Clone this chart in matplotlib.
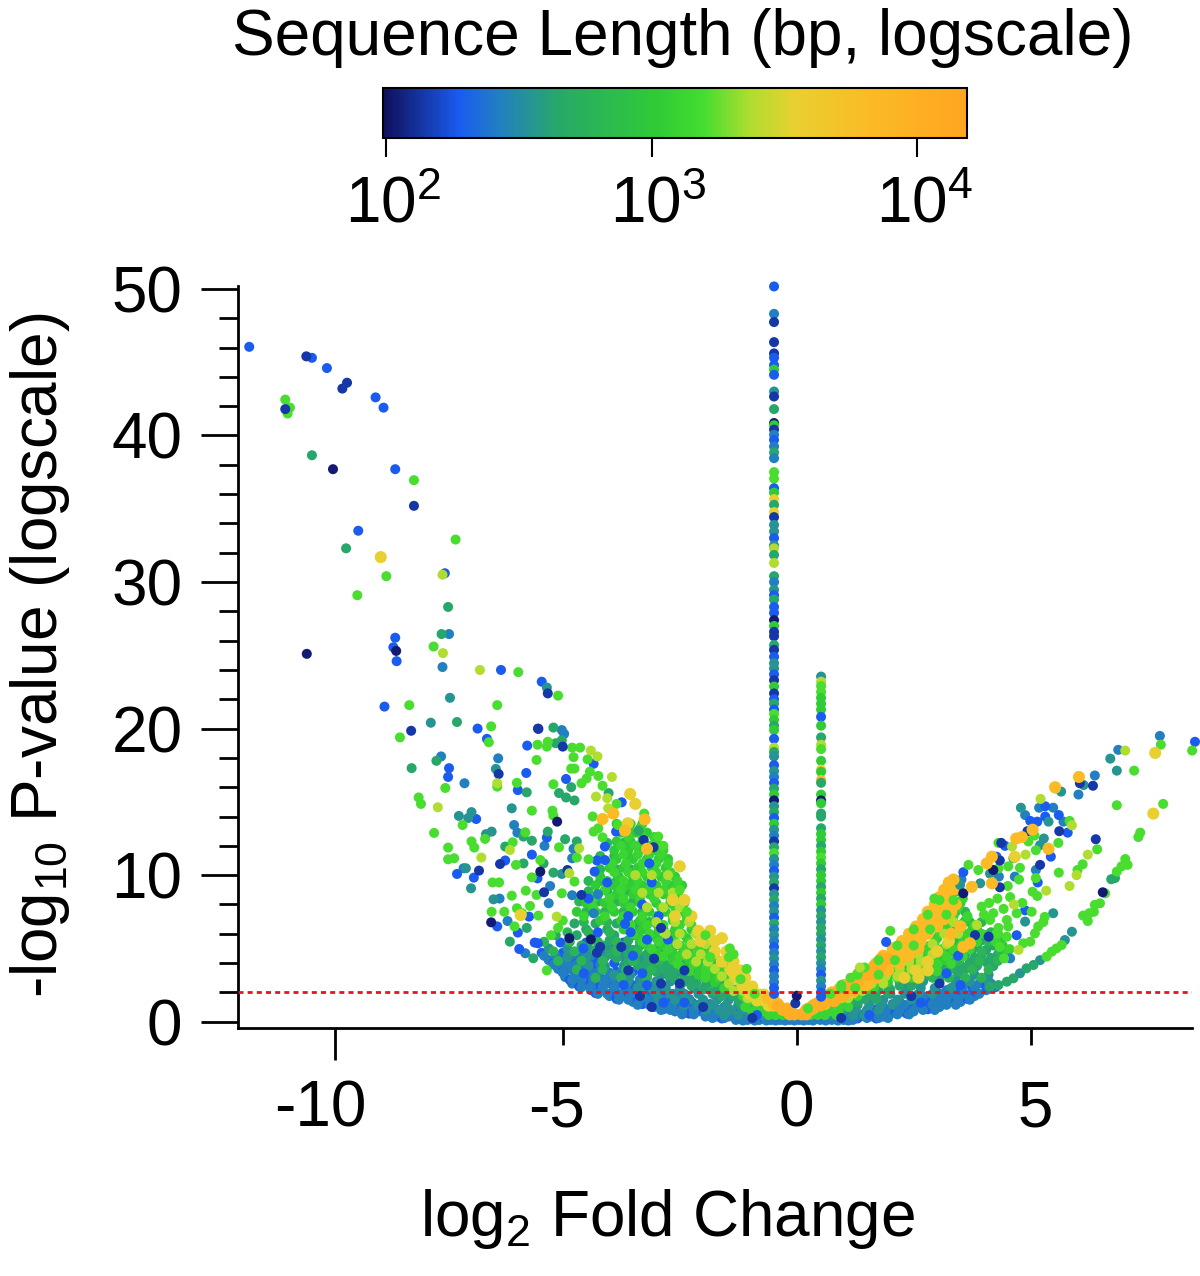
import matplotlib
matplotlib.use("Agg")
import matplotlib.pyplot as plt
from matplotlib.colors import LinearSegmentedColormap, LogNorm
from matplotlib.transforms import ScaledTranslation

plt.rcParams["font.family"] = ["Liberation Sans", "DejaVu Sans"]
plt.rcParams["mathtext.fontset"] = "custom"
plt.rcParams["mathtext.rm"] = "Liberation Sans"
plt.rcParams["mathtext.default"] = "regular"

# sequence lengths (bp)
NAVY, DARK, BLUE, SKY, TEAL, SEA, FILL = 108, 139, 190, 268, 346, 445, 620
GREEN, MIDGREEN, BRIGHT, LIME, YELLOW, GOLD, ORANGE = 1080, 1300, 1590, 2370, 3460, 6520, 11000

x_ticks = [-9.86, -5, 0, 5]
x_labels = ["-10", "-5", "0", "5"]
y_major = [0, 10, 20, 30, 40, 50]
y_minor = [2, 4, 6, 8, 12, 14, 16, 18, 22, 24, 26, 28, 32, 34, 36, 38, 42, 44, 46, 48]
cbar_ticks = [100, 1000, 10000]
cbar_labels = ["$10^2$", "$10^3$", "$10^4$"]
threshold = 2

# two spikes of genes with a fold change near +-0.5
strip_left_y = [50.17, 48.3, 47.74, 46.37, 45.6, 45.3, 44.8, 44.5, 44.14, 43, 42.66, 41.8, 40.85, 40.7, 40.4, 40.05,
                39.7, 39.25, 38.84, 38.45, 37.5, 37.05, 36.4, 36.1, 35.66, 35.27, 34.77, 34.43, 33.9, 33.45, 33,
                32.5, 32.3, 31.85, 31.3, 30.4, 30, 29.47, 29.1, 28.8, 28.3, 27.9, 27.4, 27, 26.6, 26.3, 25.7, 25.37,
                24.9, 24.46, 24.1, 23.7, 23.3, 22.87, 22.4, 22.0, 21.7, 21.3, 21, 20.6, 20.2, 19.9, 19.3, 18.7,
                18.4, 18.1, 17.5, 17.1, 16.7, 16.3, 15.9, 15.5, 15.1, 14.7, 14.3, 13.9, 13.5, 13.1, 12.7, 12.3,
                11.9, 11.5, 11.1, 10.7, 10.3, 9.9, 9.5, 9.1, 8.7, 8.3, 7.9, 7.5, 7.1, 6.7, 6.3, 5.9, 5.5, 5.1, 4.7,
                4.3, 3.9, 3.5, 3.1, 2.7, 2.3, 1.9]
strip_left_len = [BLUE, SKY, DARK, DARK, DARK, BLUE, BLUE, GREEN, BLUE, TEAL, DARK, SEA, NAVY, GREEN, DARK, SKY,
                  BLUE, SKY, SEA, SKY, BRIGHT, BRIGHT, BLUE, GREEN, YELLOW, SEA, YELLOW, DARK, TEAL, TEAL, BLUE,
                  TEAL, LIME, SEA, LIME, SEA, SKY, TEAL, BLUE, SEA, BLUE, BLUE, NAVY, GREEN, DARK, DARK, SEA, DARK,
                  BLUE, TEAL, TEAL, BLUE, DARK, GREEN, DARK, BLUE, SEA, BLUE, BRIGHT, GREEN, SEA, GREEN, BLUE, LIME,
                  SEA, TEAL, BLUE, TEAL, SKY, BLUE, SEA, GREEN, NAVY, TEAL, SEA, BLUE, GREEN, TEAL, SKY, DARK,
                  SEA, BRIGHT, TEAL, SKY, BLUE, TEAL, SEA, DARK, TEAL, SEA, SKY, TEAL, BLUE, SEA, SKY, TEAL, SKY, BLUE,
                  SKY, TEAL, SKY, BLUE, SKY, SKY, BLUE, BLUE]
strip_right_y = [23.55, 23.2, 22.9, 22.5, 22.1, 21.7, 21.3, 20.8, 20.2, 19.4, 18.9, 18.6, 17.8, 17.2, 17.05, 16.5,
                 16.3, 15.5, 15.1, 14.9, 14.2, 14, 13.2, 12.8, 12.4, 12.0, 11.6, 11.2, 10.8, 10.4, 10, 9.6, 9.2,
                 8.8, 8.4, 8, 7.6, 7.2, 6.8, 6.4, 6, 5.6, 5.2, 4.8, 4.4, 4, 3.6, 3.2, 2.8, 2.4, 2, 1.7]
strip_right_len = [TEAL, LIME, BRIGHT, BRIGHT, GREEN, GREEN, GREEN, BLUE, GREEN, SEA, LIME, BRIGHT, GREEN, YELLOW,
                   GREEN, GOLD, SEA, GREEN, NAVY, GREEN, SEA, SEA, SEA, GREEN, GREEN, SEA, GREEN, BRIGHT, GREEN, SEA,
                   GREEN, GREEN, SEA, GREEN, SEA, GREEN, TEAL, SEA, TEAL, SEA, SEA, TEAL, SEA, TEAL, SEA, TEAL,
                   SKY, BLUE, TEAL, SKY, BLUE, BLUE]

# dense part of the volcano: (y, [x, ...]) rows, drawn in the order of dense_layers below
sky_rows = [(0.12, [-1.3, -1.05, -.8, -.55, -.35, -.15, .05, .25, .5, .75, 1.0, 1.2]),
            (0.35, [-1.95, -1.7, -1.45, -1.2, -.95, 1.1, 1.35, 1.6, 1.85]),
            (0.7, [-2.6, -2.35, -2.1, -1.85, -1.6, -1.35, 1.5, 1.75, 2.0, 2.25, 2.5]),
            (1.0, [-3.05, -2.8, -2.55, -2.3, -2.05, -1.8, -1.55, 1.85, 2.1, 2.35, 2.6, 2.85, 3.05]),
            (1.35, [-3.5, -3.25, -3.0, -2.75, -2.5, -2.25, -2.0, 2.2, 2.5, 2.8, 3.1, 3.35, 3.5]),
            (1.75, [-4.0, -3.75, -3.5, -3.25, -3.0, -2.75, -2.5, 2.7, 3.0, 3.3, 3.6, 3.8]),
            (2.15, [-4.4, -4.15, -3.9, -3.65, -3.4, -3.15, -2.9, 3.2, 3.5, 3.8, 4.05]),
            (2.6, [-4.8, -4.55, -4.3, -4.05, -3.8, -3.55, -3.3, 3.6, 3.9, 4.15]),
            (3.05, [-4.95, -4.7, -4.45, -4.2, -3.95, -3.7]),
            (3.6, [-5.1, -4.85, -4.6, -4.35, -4.1]),
            (4.2, [-5.3, -5.05, -4.8, -4.55, -4.3])]
sky2_rows = [(0.08, [-1.15, -.9, -.65, -.45, -.25, -.05, .15, .35, .62, .88, 1.1]),
             (0.25, [-1.8, -1.55, -1.3, 1.25, 1.5, 1.75, 1.95]),
             (0.5, [-2.45, -2.2, -1.95, -1.75, -1.45, 1.4, 1.6, 1.9, 2.15, 2.4]),
             (0.8, [-2.9, -2.7, -2.45, -2.2, -1.95, 1.9, 2.2, 2.5, 2.7, 2.95]),
             (1.15, [-3.4, -3.15, -2.9, -2.65, -2.4, -2.15, -1.9, 2.3, 2.6, 2.9, 3.2, 3.4]),
             (1.5, [-3.8, -3.6, -3.35, -3.15, -2.85, -2.6, -2.35, 2.65, 2.95, 3.2, 3.45, 3.7]),
             (1.9, [-4.25, -4.05, -3.8, -3.55, -3.3, -3.05, -2.65, 3.1, 3.35, 3.6, 3.9]),
             (2.35, [-4.6, -4.4, -4.15, -3.9, -3.65, -3.4, -3.1, 3.55, 3.8, 4.1, 4.25]),
             (2.85, [-4.8, -4.6, -4.35, -4.1, -3.85, -3.6, -3.35]),
             (3.35, [-5.0, -4.75, -4.5, -4.25, -4.0, -3.75]),
             (3.9, [-5.2, -4.95, -4.7, -4.45, -4.2]),
             (4.5, [-5.4, -5.15, -4.9, -4.65, -4.4])]
blue_rows = [(0.22, [-1.6, -1.2, -.7, -.1, .02, .12, .6, 1.3, 1.7]),
             (0.55, [-2.3, -1.95, -1.6, -1.3, 1.3, 1.65, 2.0, 2.35]),
             (0.85, [-2.85, -2.45, -2.1, -1.7, 1.7, 2.1, 2.45, 2.8]),
             (1.2, [-3.3, -2.95, -2.6, -2.2, -1.85, 2.05, 2.45, 2.75, 3.2]),
             (1.55, [-3.85, -3.45, -3.1, -2.7, -2.3, 2.5, 2.9, 3.3, 3.65]),
             (1.95, [-4.3, -3.95, -3.6, -3.2, -2.8, 3.0, 3.4, 3.75]),
             (2.4, [-4.65, -4.3, -3.9, -3.5, -3.1, 3.4, 3.75, 4.05]),
             (2.85, [-4.85, -4.5, -4.1, -3.7, -3.35]),
             (3.4, [-5.0, -4.65, -4.25, -3.85, -3.5]),
             (4.0, [-5.2, -4.7, -4.3, -3.9]),
             (4.7, [-5.45, -5.0, -4.6, -4.2, -3.8]),
             (5.4, [-5.6, -5.05, -4.5, -4.0, -3.7])]
teal_rows = [(0.45, [-1.55, -1.25, -1.0, -.75, -.55, .7, .95, 1.2, 1.45]),
             (0.8, [-1.95, -1.65, -1.4, -1.15, -.9, 1.0, 1.25, 1.5, 1.75]),
             (1.15, [-2.4, -2.1, -1.8, -1.5, -1.25, 1.3, 1.55, 1.8, 2.05]),
             (1.5, [-2.95, -2.6, -2.3, -2.0, -1.7, -1.45, 1.6, 1.85, 2.15, 2.45]),
             (1.9, [-3.3, -3.0, -2.7, -2.4, -2.1, -1.8, 2.0, 2.3, 2.6, 2.9]),
             (2.3, [-3.4, -3.1, -2.8, -2.5, -2.2, 2.35, 2.65, 2.95, 3.3]),
             (2.75, [-3.6, -3.3, -3.0, -2.7, -2.4, 2.7, 3.05, 3.4, 3.7, 4.1]),
             (3.2, [-3.9, -3.55, -3.2, -2.9, -2.6, 3.1, 3.45, 3.8, 4.1]),
             (3.8, [-4.45, -4.1, -3.7, -3.35, -3.0, 3.5, 3.85, 4.2]),
             (4.4, [-4.9, -4.5, -4.1, -3.7, -3.3]),
             (5.0, [-5.3, -4.9, -4.45, -4.05, -3.6])]
sea_rows = [(1.3, [-1.2, -1.0, 1.1, 1.3]),
            (1.75, [-1.6, -1.35, 1.4, 1.65]),
            (2.2, [-2.0, -1.7, -1.45, 1.75, 2.0]),
            (2.65, [-2.45, -2.15, -1.85, -1.6, 2.2, 2.5]),
            (3.15, [-2.75, -2.4, -2.1, -1.8, 2.55, 2.85]),
            (3.6, [-3.2, -2.85, -2.5, -2.2, -1.9, 3.0, 3.3, 3.6]),
            (4.05, [-3.6, -3.2, -2.85, -2.5, -2.2, 3.35, 3.7, 4.05]),
            (4.6, [-4.0, -3.6, -3.2, -2.8, -2.45, 3.6, 3.95, 4.3]),
            (5.2, [-4.6, -4.15, -3.75, -3.35, -2.95, -2.6, 3.85, 4.2]),
            (5.9, [-5.15, -4.7, -4.3, -3.9, -3.5, -3.1, -2.7, 3.7, 4.05]),
            (6.7, [-4.75, -4.3, -3.85, -3.4, -3.0, 3.55])]
sea2_rows = [(1.55, [-1.25, -1.05, 1.2, 1.45, 1.7]),
             (2.0, [-1.8, -1.55, -1.3, 1.5, 1.7, 1.95]),
             (2.45, [-2.25, -1.95, -1.65, 1.95, 2.2, 2.45]),
             (2.9, [-2.6, -2.25, -1.95, 2.35, 2.65]),
             (3.4, [-3.0, -2.65, -2.35, 2.75, 3.1, 3.45]),
             (3.85, [-3.4, -3.05, -2.7, -2.4, 3.2, 3.5, 3.85, 4.2]),
             (4.35, [-3.85, -3.45, -3.05, -2.65, 3.5, 3.8, 4.15, 4.4]),
             (4.9, [-4.3, -3.9, -3.5, -3.1, -2.75, 3.75, 4.05]),
             (5.55, [-4.4, -4.0, -3.6, -3.2, -2.85, 3.95, 4.15]),
             (6.3, [-4.5, -4.05, -3.65, -3.25, -2.85, 3.85])]
fill_rows = [(3.0, [-4.3, -3.75, -3.2, 2.55, 2.9, 3.25, 3.6, 3.95]),
             (3.55, [-4.7, -4.15, -3.65, -3.1, 2.9, 3.25, 3.75, 4.1]),
             (4.15, [-5.1, -4.6, -4.15, -3.5, -2.95, 3.05, 3.45, 3.9, 4.3]),
             (4.8, [-5.2, -4.75, -4.3, -3.85, -3.4, -2.85, 3.2, 3.6, 3.95, 4.35]),
             (5.45, [-5.4, -4.85, -4.25, -3.85, -3.35, 3.4, 3.75, 4.1, 4.35]),
             (6.1, [-4.9, -4.45, -4.0, -3.4, 3.5, 3.85, 4.15]),
             (6.8, [-4.55, -4.05, -3.6, -3.15, 3.25, 3.7, 3.95]),
             (7.5, [-4.5, -4.1, -3.7, -3.3, 2.95, 3.25, 3.6]),
             (8.2, [-4.65, -4.25, -3.85, -3.5, 3.05, 3.35]),
             (8.9, [-4.45, -4.05, -3.65, -3.3, 3.2, 3.45]),
             (9.6, [-4.45, -4.2, -3.85, -3.5]),
             (10.4, [-4.2, -3.85, -3.55]),
             (11.3, [-4.2, -3.9, -3.6]),
             (12.2, [-4.05, -3.7])]
green_rows = [(2.2, [-1.3, -1.05, 1.3, 1.5]),
              (2.7, [-1.75, -1.45, -1.2, 1.45, 1.7, 1.95]),
              (3.2, [-2.1, -1.8, -1.5, -1.25, 1.7, 2.0, 2.3]),
              (3.7, [-2.45, -2.1, -1.8, -1.5, 2.0, 2.3, 2.6, 2.85]),
              (4.2, [-2.65, -2.3, -2.0, -1.7, 2.2, 2.5, 2.85, 3.15]),
              (4.7, [-3.0, -2.65, -2.3, -2.0, -1.75, 2.4, 2.75, 3.05, 3.35, 4.5]),
              (5.2, [-3.2, -2.85, -2.5, -2.2, -1.9, 2.5, 2.85, 3.2, 3.5, 4.4]),
              (5.7, [-3.35, -3.0, -2.65, -2.35, -2.05, 2.65, 3.0, 3.3, 3.6, 4.3]),
              (6.3, [-3.7, -3.3, -2.95, -2.6, -2.25, 2.8, 3.1, 3.4, 3.75]),
              (6.9, [-4.2, -3.75, -3.35, -3.0, -2.65, -2.35, 3.0, 3.3, 3.6]),
              (7.5, [-4.7, -4.3, -3.9, -3.5, -3.15, -2.8, -2.5, 3.1, 3.4]),
              (8.1, [-4.5, -4.1, -3.7, -3.35, -3.0, -2.7, -2.4, 3.2, 3.5]),
              (8.7, [-4.25, -3.85, -3.5, -3.15, -2.85, -2.55, 3.3]),
              (9.3, [-4.3, -3.9, -3.6, -3.3, -3.0, -2.7, -2.45]),
              (9.9, [-4.2, -3.8, -3.5, -3.2, -2.9, -2.6]),
              (10.5, [-4.0, -3.7, -3.4, -3.1, -2.8]),
              (11.1, [-3.85, -3.5, -3.2, -2.95, -2.75]),
              (11.7, [-3.9, -3.6, -3.35, -3.05, -2.85]),
              (12.3, [-3.85, -3.55, -3.3, -3.0]),
              (12.9, [-3.75, -3.45, -3.2]),
              (13.5, [-3.85, -3.55, -3.3])]
green2_rows = [(0.45, [-.6, -.45, -.3, .3, .45, .6, .85]),
               (0.7, [-.95, -.75, -.55, .5, .7, .9]),
               (1.0, [-1.1, -.85, -.65, .7, .9, 1.1]),
               (1.35, [-1.05, -.8, .85, 1.05]),
               (1.75, [-1.15, -.95, 1.1, 1.3]),
               (2.3, [-1.55, -1.2, 1.4, 1.65]),
               (3.0, [-1.95, -1.65, -1.35, 1.55, 1.85, 2.15, 2.45]),
               (3.45, [-2.3, -1.95, -1.65, -1.35, 1.85, 2.15, 2.45, 2.7, 3.0]),
               (3.95, [-2.55, -2.2, -1.9, -1.6, 2.1, 2.4, 2.7, 3.0, 3.3]),
               (4.45, [-2.85, -2.5, -2.15, -1.85, 2.3, 2.6, 2.95, 3.2, 3.55]),
               (4.95, [-3.1, -2.75, -2.4, -2.1, -1.85, 2.45, 2.75, 3.1, 3.35, 3.7, 4.55]),
               (5.45, [-3.3, -2.95, -2.6, -2.3, -2.0, 2.6, 2.95, 3.25, 3.55, 3.85, 4.25]),
               (6.0, [-3.5, -3.15, -2.8, -2.45, -2.15, 2.75, 3.05, 3.35, 3.65, 3.95, 4.3]),
               (6.6, [-3.55, -3.2, -2.85, -2.5, -2.25, 2.9, 3.2, 3.5, 3.8]),
               (7.2, [-4.55, -4.1, -3.7, -3.3, -3.0, -2.65, -2.35, 3.05, 3.35, 3.65]),
               (7.8, [-4.35, -3.95, -3.55, -3.2, -2.9, -2.6, 3.15, 3.45]),
               (8.4, [-4.35, -4.0, -3.7, -3.35, -3.05, -2.7, -2.45, 3.25, 3.55]),
               (9.0, [-4.1, -3.75, -3.45, -3.15, -2.85, -2.6]),
               (9.6, [-4.05, -3.7, -3.4, -3.1, -2.8, -2.55]),
               (10.2, [-3.9, -3.6, -3.3, -3.0, -2.7]),
               (10.8, [-3.95, -3.65, -3.3, -3.0, -2.75]),
               (11.4, [-3.7, -3.4, -3.15, -2.9]),
               (12.0, [-3.75, -3.45, -3.15, -2.95]),
               (12.6, [-3.6, -3.3, -3.05]),
               (13.2, [-3.6, -3.35])]
lime_rows = [(1.6, [-1.05, -.85, .95, 1.1]),
             (2.1, [-1.35, -1.15, -.95, 1.15, 1.4]),
             (2.6, [-1.45, -1.2, 1.6, 1.85]),
             (3.1, [-1.6, -1.35, 1.9, 2.15]),
             (3.6, [-1.75, -1.45, 2.2, 2.45]),
             (4.1, [-2.15, -1.9, -1.6, 2.4, 2.65]),
             (4.6, [-2.35, -2.05, -1.75, 2.6, 2.9]),
             (5.3, [-2.55, -2.25, -1.95, 2.9, 3.2]),
             (6.0, [-2.8, -2.5, -2.15, 3.15, 3.45]),
             (6.8, [-3.0, -2.6, -2.3, 3.35]),
             (7.8, [-3.2, -2.85, -2.5]),
             (8.8, [-3.3, -2.95, -2.65]),
             (10.0, [-3.45, -3.1, -2.75])]
yellow_rows = [(1.1, [-.6, -.5, -.4]),
               (1.45, [-.85, -.7, -.55]),
               (1.85, [-1.0, -.8, -.7]),
               (2.4, [-1.15, -.95]),
               (3.0, [-1.3, -1.1, 2.3, 2.6]),
               (3.5, [-1.4, -1.2, 2.55, 2.8]),
               (4.1, [-1.6, -1.35, 2.8]),
               (4.8, [-1.75, -1.5, 3.0]),
               (5.5, [-2.05, -1.75, 3.25]),
               (6.2, [-2.1, -1.85]),
               (7.2, [-2.6, -2.25]),
               (8.3, [-2.65, -2.4])]
gold_rows = [(0.9, [-.3, -.2, .25, .35]),
             (1.2, [-.5, -.4, .4, .5, .6]),
             (1.6, [-.62, -.5, .55, .7, .85]),
             (2.0, [.75, .9, 1.05, 1.2]),
             (2.5, [1.0, 1.15, 1.3, 1.5]),
             (3.0, [1.25, 1.4, 1.55, 1.7]),
             (3.5, [1.45, 1.6, 1.75, 1.95]),
             (4.0, [1.7, 1.85, 2.0, 2.2]),
             (4.5, [1.85, 2.0, 2.2, 2.4]),
             (5.0, [2.05, 2.2, 2.4, 2.6]),
             (5.5, [2.25, 2.4, 2.65]),
             (6.0, [2.4, 2.55, 2.8, 3.3]),
             (6.5, [2.55, 2.75, 3.0, 3.5]),
             (7.0, [2.7, 2.9, 3.15]),
             (7.5, [2.8, 3.0, 3.3]),
             (8.0, [2.95, 3.15, 3.4]),
             (8.5, [3.05, 3.25]),
             (9.0, [3.15, 3.35]),
             (9.5, [3.25, 3.4])]
orange_rows = [(0.5, [-.15, -.05, .1, .2]),
               (0.8, [-.3, -.2, .2, .3]),
               (1.1, [-.4, .35, .5]),
               (1.4, [.5, .65, .8]),
               (1.8, [.65, .85, 1.0]),
               (2.2, [.9, 1.05, 1.2]),
               (2.7, [1.15, 1.3]),
               (3.2, [1.4, 1.5, 1.65]),
               (3.8, [1.65, 1.8]),
               (4.3, [1.8, 1.95])]
edge_green_rows = [(1.9, [-.9, .72]),
                   (2.3, [.95, 1.25]),
                   (2.9, [-1.2]),
                   (3.2, [1.3, 1.75]),
                   (4.2, [1.75, 2.1]),
                   (4.4, [-1.45, -1.85]),
                   (5.2, [2.15, 2.5]),
                   (5.9, [-1.95]),
                   (6.3, [2.5, 2.85]),
                   (7.3, [2.8, 3.2]),
                   (7.5, [-2.35]),
                   (8.3, [3.05, 3.35]),
                   (9.0, [-2.5])]
fleck_blue_rows = [(0.45, [-.85, 1.55]),
                   (1.3, [-2.85, -2.4, 2.65]),
                   (2.5, [-3.7, -3.2, 3.5]),
                   (3.3, [-4.55, -3.3, 3.2]),
                   (4.5, [-3.5, 3.45]),
                   (5.6, [-3.2, -2.75]),
                   (6.1, [-4.25, -3.55]),
                   (7.2, [-3.6, -2.95]),
                   (8.0, [-3.3]),
                   (9.5, [-4.05, -3.1]),
                   (10.8, [-3.15])]
fleck_navy_rows = [(0.25, [-.95, .95]),
                   (1.0, [-3.1, -2.0]),
                   (1.75, [-3.35, 2.45]),
                   (2.6, [-2.5, -2.9, 3.05]),
                   (3.5, [-2.4, -3.6]),
                   (4.3, [-3.05]),
                   (5.1, [-3.75, -4.2]),
                   (6.4, [-2.9])]

# scattered points, (x, y)
navy_pts = [(-9.91, 37.7), (-10.47, 25.1), (-8.56, 25.3), (-5.12, 13.65), (-6.53, 6.78), (0, 1.77), (4.2, 10.35),
            (3.56, 8.76), (6.54, 8.83), (-4.86, 5.7), (-4.4, 5.62), (-5.48, 10.24)]
dark_pts = [(-10.48, 45.4), (-9.61, 43.6), (-9.71, 43.2), (-10.93, 41.8), (-8.18, 35.2), (-8.24, 19.85), (-5.53, 20),
            (-5.32, 22.4), (-5.52, 19.98), (-5.0, 18.77), (-6.37, 16.9), (-3.27, 12.4), (-3.06, 11.9), (-6.79, 10.31),
            (-6.34, 10.76), (-5.4, 8.83), (-4.9, 10.35), (-4.6, 8.65), (-4.27, 4.7), (4.37, 12.2), (4.93, 13),
            (5.2, 10.7), (4.34, 11), (4.34, 9.17), (6.05, 16.27), (6.33, 16.1), (6.39, 12.45), (5.61, 13), (3.81, 5.9),
            (4.1, 5.8), (-0.03, 1.25)]
blue_pts = [(-11.7, 46.05), (-10.36, 45.3), (-10.04, 44.6), (-9, 42.6), (-8.83, 41.9), (-8.58, 37.7), (-9.37, 33.5),
            (-7.52, 30.6), (-8.58, 26.2), (-8.62, 25.55), (-8.55, 24.6), (-6.32, 24), (-5.45, 23.2), (-8.81, 21.5),
            (-6.82, 20), (-6.62, 19.3), (-5.76, 18.84), (-7.43, 17.3), (-7.45, 16.7), (-5.78, 16.97), (-5.96, 15.8),
            (-4.93, 16.56), (-4.34, 17.6), (-3.74, 14.97), (-6.85, 13.83), (-5.34, 12.56), (-3.86, 12.97), (-4.1, 11.95),
            (-7.26, 10.08), (-6.9, 9.83), (-6.23, 11), (-5.66, 11.4), (-5.54, 9.78), (-4.32, 10.24), (-4.27, 11), (-4.1, 11.03),
            (-4.45, 8.4), (-5.72, 7.17), (-6.4, 6.5), (-5.96, 6.08), (-5.93, 4.96), (-5.53, 5.35), (-4.56, 5), (-3.67, 6.67),
            (1.91, 5.44), (3.56, 10.2), (4.27, 11.26), (4.45, 12), (5.43, 11.26),
            (5.15, 9.5), (5.6, 14.1), (5.79, 12.9), (5.14, 13.65), (4.99, 13.7), (5.31, 14), (5.31, 14.7), (4.88, 7.6),
            (4.7, 5.9), (8.51, 19.1)]
sky_pts = [(-7.57, 24.2), (-7.43, 26.45), (-7.1, 16.27), (-6.38, 17.97), (-7.6, 18.1), (-5.02, 19.9), (-4.97, 19.64),
           (-6.04, 13.42), (-5.97, 12.9), (-5.39, 12), (-4.77, 11.8), (-7.12, 10.47), (-4.8, 11.15), (-5.27, 9.26),
           (-4.8, 8.63), (-4.25, 8.7), (-6.35, 8.4), (-5.3, 8.08), (-6.18, 6.87), (-5.8, 4.67), (-4.34, 7.4),
           (3.52, 9.7), (4.32, 9.9), (4.66, 9.9), (5.11, 10.35), (5.7, 13.65), (4.88, 14.1),
           (5.18, 14.6), (5.48, 14.6), (6.02, 15.5), (6.37, 16.8), (6.87, 18.55), (7.76, 19.5), (4.56, 4.32)]
teal_pts = [(-7.82, 20.4), (-7.41, 22.1), (-5.34, 22.8), (-6.43, 17.25), (-6.09, 14.56), (-7.22, 14.04), (-6.95, 14.3),
            (-7.02, 13.9), (-6.52, 12.97), (-6.64, 12.8), (-6.96, 9.1), (-7.07, 10.47), (-6.48, 8.35), (-5.02, 10.08),
            (3.49, 9.33), (3.92, 9.44), (4.13, 10.1), (4.63, 11.15), (5.2, 12.05), (5.28, 12.5), (5.38, 13.65),
            (4.79, 14.6), (5.65, 15.7), (6.13, 16.15), (6.7, 17.95), (6.84, 17.13), (4.88, 6.83), (5.48, 7.4),
            (5.88, 6.14), (5.73, 5.57), (5.2, 4.2), (4.77, 3.3)]
sea_pts = [(-10.36, 38.65), (-9.63, 32.3), (-7.45, 28.3), (-7.59, 26.45), (-7.26, 20.45), (-8.23, 17.3), (-7.7, 17.8),
           (-5.15, 19), (-5.2, 20.07), (-5.02, 19.2), (-5.77, 15.65), (-4.82, 16), (-5.08, 15.6), (-4.93, 15.3),
           (-4.75, 15.1), (-4.02, 15.6), (-5.32, 12.97), (-5.66, 12.35), (-6.23, 11.95), (-4.95, 12.45), (-4.7, 12.3),
           (-5.84, 12.63), (-3.38, 13.04), (-5.84, 10.8), (-5.41, 10.8), (-5.2, 10.17), (-5.77, 6.4), (-6.13, 5.46),
           (-5.63, 4.33), (6.8, 9.8), (6.72, 9.72),
           (4.13, 2.39), (4.31, 2.5), (4.49, 2.73), (4.63, 2.96), (4.91, 3.64), (5.06, 3.87)]
green_pts = [(-10.93, 42.45), (-10.83, 41.9), (-10.88, 41.5), (-8.18, 36.95), (-7.29, 32.9), (-8.77, 30.4), (-9.39, 29.1),
             (-7.76, 25.6), (-5.95, 23.85), (-5.1, 22.25), (-8.28, 21.6), (-6.4, 21.6), (-6.53, 20.15), (-8.48, 19.4),
             (-6.58, 19.07), (-5.54, 18.9), (-5.34, 18.77), (-5.32, 19.1), (-4.8, 18.7), (-4.63, 18.7), (-4.47, 17.9),
             (-4.77, 18.05), (-5.56, 17.86), (-7.51, 15.95), (-6.4, 16.04), (-5.98, 16.3), (-4.82, 17.27), (-4.75, 17.27),
             (-4.42, 17.06), (-4.49, 16.6), (-4.6, 16.27), (-4.24, 16.77), (-4.15, 16.1), (-5.2, 16.2), (-8.08, 15.3),
             (-8.03, 14.86), (-5.66, 14.4), (-5.22, 14.4), (-5.2, 14.06), (-3.85, 14.86), (-3.26, 14.2), (-4.36, 14),
             (-7.14, 13.42), (-7.75, 12.88), (-5.8, 12.92), (-6.66, 12.47), (-6.07, 12.24), (-6.95, 12.3), (-6.89, 11.88),
             (-7.45, 11.88), (-5.08, 11.9), (-4.34, 12.97), (-4.24, 13.2), (-4.15, 12.58), (-3.82, 13.42), (-2.96, 12.63),
             (-2.85, 12), (-7.45, 11.08), (-7.32, 11.15), (-6, 10.7), (-5.48, 11.03), (-5.66, 9.85), (-4.75, 9.56),
             (-4.7, 11.2), (-4.45, 11.08), (-6.5, 9.5), (-6.36, 9.5), (-6.09, 8.6), (-5.79, 8.94), (-5.56, 8.65),
             (-5.02, 8.76), (-5.98, 7.74), (-5.87, 7.4), (-5.7, 7.9), (-5.52, 7.24), (-6.52, 7.5), (-6.25, 7.5),
             (-6.03, 6.5), (-5.34, 3.5), (-5.1, 6.4), (-5.25, 5.9), (-5.0, 6.9),
             (2.0, 6.2), (2.94, 8.4), (3.67, 10.7), (3.88, 10.35), (4.31, 12.2), (4.31, 10.46), (4.51, 9.26), (4.52, 10.6),
             (4.77, 10.5), (4.75, 9.7), (5.08, 12.7), (4.95, 12.3), (5.11, 11.7), (5.11, 9.8), (5.6, 10.17), (5.59, 12.2),
             (5.83, 13.7), (6.84, 14.77), (6.42, 11.76), (6.11, 10.74), (6, 10.35), (5.04, 8.87), (5.14, 8.58),
             (7.21, 17.13), (7.78, 18.9), (8.45, 18.5), (7.83, 14.86), (7.34, 12.9), (7.3, 12.6), (7.02, 11.1),
             (7.07, 10.7), (6.94, 10.6), (6.84, 10.24), (6.59, 8.76), (6.48, 8.08), (6.37, 7.97), (6.35, 7.5), (6.25, 7.4),
             (6.12, 7.24), (6.22, 6.87), (5.3, 7.15), (5.27, 6.8), (5.16, 6.5), (5.09, 6.03), (4.99, 5.46), (4.84, 5.35),
             (4.43, 4.32), (4.34, 5.1), (4.49, 5.8), (4.27, 6), (4.13, 6.94), (4.31, 6.4), (4.52, 6.5), (5.02, 7.5),
             (4.82, 8.1), (4.56, 8.5), (4.29, 8.4), (4.11, 8.1), (3.95, 7.85), (4.42, 7.7), (4.7, 7.4), (4.2, 7.4), (4, 7.3),
             (4.49, 6.94), (5.34, 4.44), (5.45, 4.78), (5.55, 5), (5.66, 5.23), (-1.43, 5.0), (-1.35, 4.6),
             (-1.07, 3.6), (0.24, 0.9), (0.95, 2.5), (1.15, 3.0), (1.3, 3.3), (1.45, 3.7)]
lime_pts = [(-7.57, 30.5), (-7.56, 25.15), (-6.77, 24), (-6.4, 16.27), (-4.4, 18.5), (-4.26, 18.1), (-3.95, 16.7),
            (-4.29, 15.36), (-4.05, 15.25), (-4.03, 14.56), (-7.67, 14.63), (-6.13, 11.72), (-4.65, 11.83), (-6.74, 11.2),
            (-4.86, 10.13), (-5.13, 7.17), (4.6, 11.95), (4.89, 11.4), (5.21, 15.2), (5.53, 15.9), (5.88, 13.4), (6.22, 11.4),
            (5.98, 10), (5.83, 9.26), (5.33, 8.94), (7.02, 18.5), (4.64, 8), (4.74, 4.9), (3.85, 6.6), (1.35, 3.7)]
yellow_pts = [(-8.89, 31.7), (-3.56, 15.54), (-3.45, 14.86), (-3.61, 13.54), (-5.9, 7.28), (4.66, 11.25), (7.66, 18.34),
              (7.62, 14.2), (-1.6, 5.7), (-2.5, 10.6)]
gold_pts = [(-4.15, 13.83), (-3.25, 13.8), (-3.92, 14.2), (-3.67, 13.04), (-3.2, 11.8), (3.35, 9.7), (3.26, 9.1), (3.74, 9.2),
            (4.17, 11.26), (4.06, 10.8), (4.17, 9.44), (4.69, 12.5), (4.81, 12.6), (5.04, 13.1), (5.38, 11.8), (5.52, 16),
            (6.03, 16.7), (3.7, 5.35), (3.56, 5.1)]


def rows_to_xy(rows):
    xs = [x for y, row in rows for x in row]
    ys = [y for y, row in rows for x in row]
    return xs, ys


def pts_to_xy(pts):
    return [p[0] for p in pts], [p[1] for p in pts]


cmap = LinearSegmentedColormap.from_list("seqlen", [
    (0.0, "#10105a"), (0.13, "#1a5cf0"), (0.2, "#2280c0"), (0.3, "#28a868"), (0.475, "#30cc35"), (0.55, "#45dd30"),
    (0.63, "#b0dd30"), (0.705, "#e8d030"), (0.83, "#fbbb25"), (1.0, "#ffa520")])
norm = LogNorm(vmin=97.5, vmax=15400)

fig = plt.figure(figsize=(12, 12.76), dpi=100)
W, H = 1200, 1276
ax = fig.add_axes([238 / W, 1 - 1027.7 / H, (1191.7 - 238) / W, (1027.7 - 286) / H])
ax.set_xlim(-11.94, 8.44)
ax.set_ylim(-0.41, 50.2)


def dots(xy, length):
    size = 76 if length >= 3000 else 52
    ax.scatter(xy[0], xy[1], c=[length] * len(xy[0]), s=size, cmap=cmap, norm=norm, linewidths=0, clip_on=False, zorder=2)


dense_layers = [(sky_rows, SKY), (blue_rows, BLUE), (sky2_rows, SKY), (teal_rows, TEAL), (sea_rows, SEA),
                (sea2_rows, SEA), (fill_rows, FILL), (green_rows, GREEN), (green2_rows, MIDGREEN), (fleck_blue_rows, BLUE),
                (lime_rows, LIME), (yellow_rows, YELLOW), (gold_rows, GOLD), (orange_rows, ORANGE),
                (edge_green_rows, BRIGHT), (fleck_navy_rows, DARK)]
for rows, length in dense_layers:
    dots(rows_to_xy(rows), length)

sparse_layers = [(sky_pts, SKY), (blue_pts, BLUE), (teal_pts, TEAL), (sea_pts, SEA), (green_pts, BRIGHT),
                 (dark_pts, DARK), (navy_pts, NAVY), (lime_pts, LIME), (yellow_pts, YELLOW), (gold_pts, GOLD)]
for pts, length in sparse_layers:
    dots(pts_to_xy(pts), length)

ax.scatter([-0.485] * len(strip_left_y), strip_left_y, c=strip_left_len, s=52, cmap=cmap, norm=norm, linewidths=0,
           clip_on=False, zorder=3)
ax.scatter([0.52] * len(strip_right_y), strip_right_y, c=strip_right_len, s=52, cmap=cmap, norm=norm, linewidths=0,
           zorder=3)

ax.axhline(threshold, color="#e8141c", lw=2, dashes=(1.8, 1.5), zorder=4)

for side in ["top", "right"]:
    ax.spines[side].set_visible(False)
for side in ["left", "bottom"]:
    ax.spines[side].set_linewidth(2)

ax.set_xticks(x_ticks)
ax.set_xticklabels(x_labels, fontsize=46)
ax.tick_params(axis="x", length=12, width=2, pad=25)
ax.get_xticklines()[0].set_markersize(23)
# the labels do not sit quite centred under their ticks in the original
for label, dx in zip(ax.get_xticklabels(), [-15, -6, 0, 4]):
    label.set_transform(label.get_transform() + ScaledTranslation(dx / 100, 0, fig.dpi_scale_trans))
ax.set_yticks(y_major)
ax.set_yticks(y_minor, minor=True)
ax.tick_params(axis="y", which="major", length=27, width=2, labelsize=46, pad=13)
ax.tick_params(axis="y", which="minor", length=14, width=2)

fig.text(668 / W, 1 - 1219 / H, "log$_2$ Fold Change", fontsize=46, ha="center", va="center")
fig.text(40 / W, 1 - 655 / H, "-log$_{10}$ P-value (logscale)", fontsize=46, rotation=90, ha="center", va="center")

cax = fig.add_axes([383 / W, 1 - 138 / H, (967 - 383) / W, 50 / H])
sm = plt.cm.ScalarMappable(norm=norm, cmap=cmap)
cb = fig.colorbar(sm, cax=cax, orientation="horizontal")
cb.set_ticks(cbar_ticks)
cb.set_ticklabels(cbar_labels)
cb.ax.minorticks_off()
cb.ax.tick_params(length=14, width=1.5, labelsize=46, pad=13)
for label in cb.ax.get_xticklabels():
    label.set_transform(label.get_transform() + ScaledTranslation(7 / 100, 0, fig.dpi_scale_trans))
cb.outline.set_linewidth(1.5)
fig.text(683 / W, 1 - 38 / H, "Sequence Length (bp, logscale)", fontsize=46, ha="center", va="center")

fig.savefig("out.png", dpi=100)
